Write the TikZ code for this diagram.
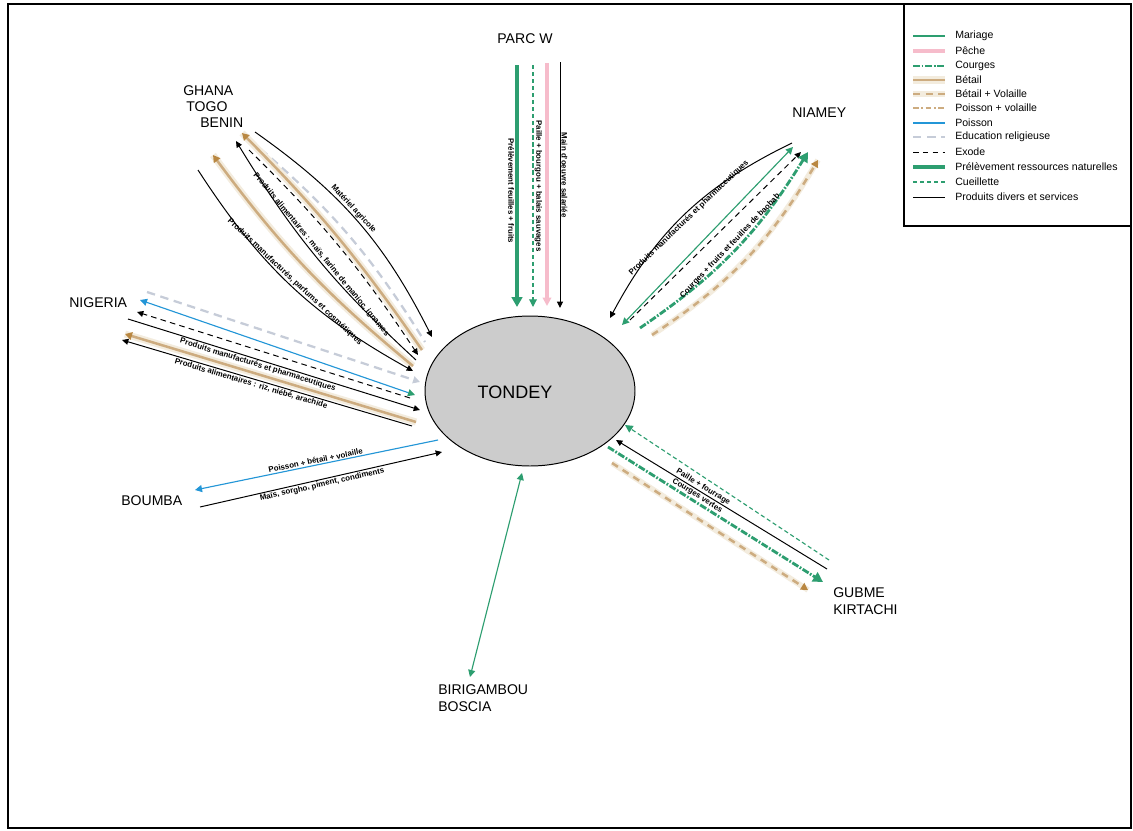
\documentclass[tikz,border=0pt]{standalone}
\usepackage{fontspec}
\setmainfont{Liberation Sans}
\usetikzlibrary{arrows.meta,shapes.geometric}

\definecolor{grn}{RGB}{45,158,112}
\definecolor{pinkP}{RGB}{246,188,203}
\definecolor{tanL}{RGB}{205,172,128}
\definecolor{tanD}{RGB}{185,135,65}
\definecolor{cream}{RGB}{243,236,222}
\definecolor{blueP}{RGB}{35,150,215}
\definecolor{greyE}{RGB}{198,204,216}
\definecolor{ellfill}{RGB}{204,204,204}

\begin{document}
% one unit = one pixel of a 1133 x 830 sheet; y grows upwards, so rows are negative
\begin{tikzpicture}[x=0.025cm,y=0.025cm,
  place/.style={inner sep=0pt,font=\fontsize{10}{12.5}\selectfont},
  lab/.style={inner sep=0.8pt,text=black,font=\fontsize{5.6}{6.5}\selectfont\bfseries},
  legtxt/.style={anchor=west,inner sep=0pt,font=\fontsize{7.5}{9}\selectfont},
  produits/.style={black,line width=0.7pt,>={Triangle[length=4.5pt,width=4.2pt]}},
  exode/.style={black,line width=0.7pt,dash pattern=on 4pt off 3pt,>={Triangle[length=4.5pt,width=4.2pt]}},
  mariage/.style={grn,line width=0.8pt,>={Triangle[length=5pt,width=5pt]}},
  cueil/.style={grn,line width=0.8pt,dash pattern=on 3pt off 2pt,>={Triangle[length=5.5pt,width=5.5pt]}},
  prelev/.style={grn,line width=2.6pt,>={Triangle[length=7pt,width=7.5pt]}},
  courges/.style={grn,line width=2pt,dash pattern=on 5pt off 1.2pt on 1.2pt off 1.2pt,>={Triangle[length=7pt,width=7.5pt]}},
  peche/.style={pinkP,line width=2.2pt,>={Triangle[length=6pt,width=6pt]}},
  betail/.style={tanL,line width=1.8pt,preaction={draw=cream,line width=5pt,arrows=-},>={Triangle[length=5pt,width=5.5pt,color=tanD]}},
  betailvol/.style={tanL,line width=1.8pt,dash pattern=on 5pt off 4pt,preaction={draw=cream,line width=4pt,arrows=-},>={Triangle[length=5pt,width=5.5pt,color=tanD]}},
  poissonvol/.style={tanL,line width=1.8pt,dash pattern=on 4pt off 2pt on 1pt off 2pt,>={Triangle[length=5pt,width=5.5pt,color=tanD]}},
  poisson/.style={blueP,line width=0.8pt,>={Triangle[length=5pt,width=5pt]}},
  educ/.style={greyE,line width=1.6pt,dash pattern=on 6pt off 4pt,>={Triangle[length=5pt,width=5pt]}}
]
\useasboundingbox (0,0) rectangle (1133,-830);
\fill[white] (0,0) rectangle (1133,-830);
\draw[line width=1.1pt] (8,-4) rectangle (1131,-828);

% legend
\draw[line width=0.8pt] (904,-4) rectangle (1131,-226);
\foreach \sty/\txt/\yy in {mariage/Mariage/36, peche/Pêche/51, courges/Courges/66,
  betail/Bétail/80, betailvol/Bétail + Volaille/94, poissonvol/Poisson + volaille/108,
  poisson/Poisson/123, educ/Education religieuse/137, exode/Exode/152,
  prelev/Prélèvement ressources naturelles/167, cueil/Cueillette/182,
  produits/Produits divers et services/197}{
  \draw[\sty] (913,-\yy) -- (945,-\yy);
  \node[legtxt] at (955,-\yy) {\txt};
}

% central village
\node[ellipse,draw,line width=0.7pt,fill=ellfill,minimum width=210*0.025cm,minimum height=150*0.025cm,inner sep=0pt] (tondey) at (530,-391) {};
\node[inner sep=0pt,font=\fontsize{12.8}{14}\selectfont] (tondeytxt) at (515,-392) {TONDEY};

% places
\node[place] (parcw) at (525,-39) {PARC W};
\node[place,anchor=west] (ghana) at (183,-91) {GHANA};
\node[place,anchor=west] (togo) at (186,-107) {TOGO};
\node[place,anchor=west] (benin) at (200,-123) {BENIN};
\node[place,anchor=west] (nigeria) at (69,-303) {NIGERIA};
\node[place,anchor=west] (boumba) at (121,-501) {BOUMBA};
\node[place,anchor=west] (niamey) at (792,-113) {NIAMEY};
\node[place,anchor=west,align=left] (gubme) at (833,-601) {GUBME\\KIRTACHI};
\node[place,anchor=west,align=left] (biri) at (438,-698) {BIRIGAMBOU\\BOSCIA};

% connector ends
\coordinate (pw1) at (517,-65);  \coordinate (pw1t) at (517,-307);
\coordinate (pw2) at (533,-65);  \coordinate (pw2t) at (533,-307);
\coordinate (pw3) at (547,-63);  \coordinate (pw3t) at (547,-306);
\coordinate (pw4) at (560,-62);  \coordinate (pw4t) at (560,-308);

\coordinate (g1) at (255,-132);  \coordinate (g1t) at (432,-337);
\coordinate (g2) at (250,-140);  \coordinate (g2t) at (425,-342);
\coordinate (g3) at (242,-133);  \coordinate (g3t) at (422,-350);
\coordinate (g4) at (249,-150);  \coordinate (g4t) at (418,-355);
\coordinate (g5) at (236,-141);  \coordinate (g5t) at (416,-360);
\coordinate (g6) at (213,-155);  \coordinate (g6t) at (413,-366);
\coordinate (g7) at (198,-170);  \coordinate (g7t) at (413,-371);

\coordinate (n1) at (147,-292);  \coordinate (n1t) at (420,-382);
\coordinate (n2) at (140,-300);  \coordinate (n2t) at (415,-395);
\coordinate (n3) at (137,-312);  \coordinate (n3t) at (410,-398);
\coordinate (n4) at (128,-319);  \coordinate (n4t) at (420,-410);
\coordinate (n5) at (125,-334);  \coordinate (n5t) at (416,-422);
\coordinate (n6) at (122,-340);  \coordinate (n6t) at (412,-426);

\coordinate (b1) at (195,-490);  \coordinate (b1t) at (438,-440);
\coordinate (b2) at (200,-507);  \coordinate (b2t) at (442,-452);

\coordinate (m1) at (792,-143);  \coordinate (m1t) at (610,-318);
\coordinate (m2) at (793,-147);  \coordinate (m2t) at (622,-325);
\coordinate (m3) at (801,-152);  \coordinate (m3t) at (630,-320);
\coordinate (m4) at (808,-152);  \coordinate (m4t) at (640,-328);
\coordinate (m5) at (818,-160);  \coordinate (m5t) at (652,-335);

\coordinate (k1) at (829,-560);  \coordinate (k1t) at (625,-425);
\coordinate (k2) at (827,-569);  \coordinate (k2t) at (616,-440);
\coordinate (k3) at (823,-582);  \coordinate (k3t) at (608,-447);
\coordinate (k4) at (808,-590);  \coordinate (k4t) at (612,-463);

\coordinate (r1) at (470,-677);  \coordinate (r1t) at (522,-473);

% PARC W flows
\draw[prelev,->] (pw1) -- (pw1t) node[lab,sloped,below,pos=0.52] {Prélèvement feuilles + fruits};
\draw[cueil,->] (pw2) -- (pw2t) node[lab,sloped,above,pos=0.5] {Paille + bourgou + balais sauvages};
\draw[peche,->] (pw3) -- (pw3t);
\draw[produits,->] (pw4) -- (pw4t) node[lab,sloped,above,pos=0.46] {Main d'oeuvre salariée};

% Ghana / Togo / Benin flows
\draw[produits,->] (g1) to[bend left=14] node[lab,sloped,above,pos=0.45] {Matériel agricole} (g1t);
\draw[educ] (g2) to[bend left=9] (g2t);
\draw[betail,->] (g3t) to[bend right=5] (g3);
\draw[exode,->] (g4) to[bend left=6] (g4t);
\draw[produits,->] (g5t) to[bend left=8] node[lab,sloped,above,pos=0.5] {Produits alimentaires : maïs, farine de manioc, ignames} (g5);
\draw[betail,->] (g6t) to[bend left=7] (g6);
\draw[produits,->] (g7) to[bend right=14] node[lab,sloped,above,pos=0.5] {Produits manufacturés, parfums et cosmétiques} (g7t);

% Nigeria flows
\draw[educ,->] (n1) -- (n1t);
\draw[poisson,{Triangle[color=grn,length=5pt,width=5pt]}-{Triangle[length=5pt,width=5pt]}] (n2t) -- (n2);
\draw[exode,->] (n3t) -- (n3);
\draw[produits,->] (n4) -- (n4t) node[lab,sloped,below,pos=0.45] {Produits manufacturés et pharmaceutiques};
\draw[betail,->] (n5t) -- (n5);
\draw[produits,->] (n6t) -- (n6) node[lab,sloped,below,pos=0.55] {Produits alimentaires : riz, niébé, arachide};

% Boumba flows
\draw[poisson,->] (b1t) -- (b1) node[lab,sloped,above,pos=0.5] {Poisson + bétail + volaille};
\draw[produits,->] (b2) -- (b2t) node[lab,sloped,below,pos=0.5] {Maïs, sorgho, piment, condiments};

% Niamey flows
\draw[produits,->] (m1) to[bend right=18] node[lab,sloped,below,pos=0.5] {Produits manufacturés et pharmaceutiques} (m1t);
\draw[mariage,<->] (m2t) -- (m2);
\draw[exode,->] (m3t) -- (m3);
\draw[courges,->] (m4t) to[bend right=12] node[lab,sloped,above,pos=0.5] {Courges + fruits et feuilles de baobab} (m4);
\draw[betailvol,->] (m5t) to[bend right=13] (m5);

% Gubme / Kirtachi flows
\draw[cueil,->] (k1) -- (k1t);
\draw[produits,->] (k2) -- (k2t) node[lab,sloped,above,pos=0.6] {Paille + fourrage};
\draw[courges,->] (k3t) -- (k3) node[lab,sloped,above,pos=0.4] {Courges vertes};
\draw[betailvol,->] (k4t) -- (k4);

% Birigambou / Boscia
\draw[mariage,<->] (r1t) -- (r1);
\end{tikzpicture}
\end{document}
